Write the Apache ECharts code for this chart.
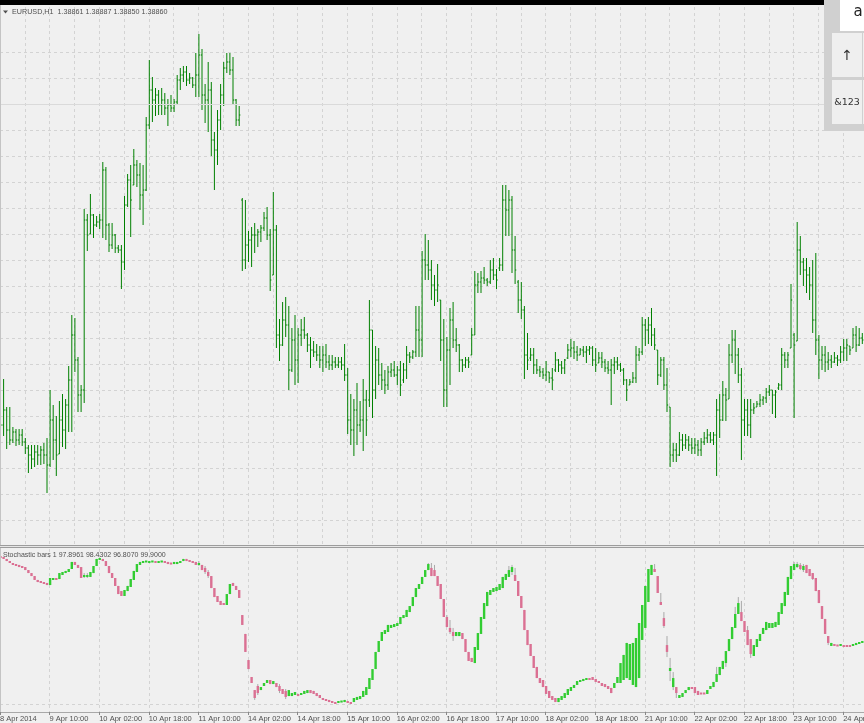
<!DOCTYPE html>
<html><head><meta charset="utf-8">
<script src="https://cdn.jsdelivr.net/npm/echarts@6/dist/echarts.min.js"></script>
<style>html,body{margin:0;padding:0;background:#f0f0f0;overflow:hidden}#c{width:864px;height:723px}</style>
</head><body><div id="c"></div>
<script>
const tickLabels = ['8 Apr 2014','9 Apr 10:00','10 Apr 02:00','10 Apr 18:00','11 Apr 10:00','14 Apr 02:00','14 Apr 18:00','15 Apr 10:00','16 Apr 02:00','16 Apr 18:00','17 Apr 10:00','18 Apr 02:00','18 Apr 18:00','21 Apr 10:00','22 Apr 02:00','22 Apr 18:00','23 Apr 10:00','24 Apr 02:00'];

const priceOpen = [
1.38780,1.38775,1.38790,1.38770,1.38760,1.38768,1.38760,1.38765,1.38758,1.38752,
1.38745,1.38741,1.38748,1.38745,1.38750,1.38745,1.38735,1.38780,1.38760,1.38746,
1.38780,1.38770,1.38795,1.38820,1.38865,1.38840,1.38805,1.38810,1.38980,1.38966,
1.38985,1.38975,1.38978,1.38980,1.39030,1.38975,1.38955,1.38965,1.38952,1.38950,
1.38938,1.38995,1.39020,1.39015,1.39035,1.39025,1.39005,1.39010,1.39075,1.39110,
1.39100,1.39105,1.39095,1.39100,1.39092,1.39095,1.39092,1.39098,1.39120,1.39125,
1.39128,1.39120,1.39122,1.39115,1.39125,1.39145,1.39105,1.39100,1.39110,1.39060,
1.39050,1.39080,1.39105,1.39132,1.39138,1.39130,1.39100,1.39080,1.39000,1.38940,
1.38955,1.38960,1.38965,1.38965,1.38968,1.38972,1.38982,1.38965,1.38925,1.38970,
1.38865,1.38855,1.38880,1.38875,1.38830,1.38860,1.38840,1.38865,1.38870,1.38865,
1.38855,1.38850,1.38848,1.38845,1.38840,1.38845,1.38838,1.38835,1.38838,1.38835,
1.38838,1.38835,1.38825,1.38780,1.38770,1.38790,1.38775,1.38780,1.38800,1.38800,
1.38870,1.38810,1.38840,1.38825,1.38820,1.38815,1.38828,1.38830,1.38825,1.38830,
1.38820,1.38830,1.38845,1.38843,1.38848,1.38870,1.38860,1.38940,1.38935,1.38930,
1.38915,1.38910,1.38900,1.38860,1.38810,1.38850,1.38880,1.38860,1.38855,1.38840,
1.38835,1.38840,1.38845,1.38865,1.38915,1.38918,1.38922,1.38920,1.38918,1.38930,
1.38925,1.38932,1.38935,1.39000,1.38990,1.39000,1.38950,1.38918,1.38900,1.38890,
1.38845,1.38842,1.38845,1.38835,1.38830,1.38828,1.38825,1.38828,1.38822,1.38830,
1.38840,1.38835,1.38832,1.38842,1.38850,1.38852,1.38848,1.38845,1.38850,1.38848,
1.38850,1.38852,1.38840,1.38837,1.38842,1.38838,1.38832,1.38830,1.38835,1.38838,
1.38835,1.38830,1.38820,1.38815,1.38818,1.38822,1.38845,1.38848,1.38875,1.38870,
1.38875,1.38865,1.38850,1.38825,1.38840,1.38815,1.38793,1.38745,1.38750,1.38745,
1.38760,1.38755,1.38760,1.38755,1.38752,1.38755,1.38750,1.38758,1.38762,1.38765,
1.38760,1.38765,1.38790,1.38780,1.38805,1.38801,1.38845,1.38860,1.38845,1.38825,
1.38780,1.38790,1.38775,1.38790,1.38793,1.38796,1.38800,1.38802,1.38808,1.38810,
1.38805,1.38812,1.38815,1.38845,1.38840,1.38852,1.38865,1.38859,1.38950,1.38938,
1.38930,1.38925,1.38915,1.38880,1.38860,1.38840,1.38845,1.38838,1.38840,1.38838,
1.38842,1.38840,1.38848,1.38852,1.38854,1.38852,1.38865,1.38855,1.38862];
const priceHigh = [
1.38805,1.38821,1.38793,1.38793,1.38773,1.38771,1.38771,1.38771,1.38762,1.38755,
1.38755,1.38755,1.38755,1.38754,1.38757,1.38762,1.38810,1.38795,1.38784,1.38799,
1.38806,1.38801,1.38834,1.38885,1.38882,1.38843,1.38815,1.38991,1.38986,1.39006,
1.38986,1.38984,1.38986,1.39038,1.39033,1.38977,1.38977,1.38966,1.38955,1.38955,
1.39004,1.39026,1.39035,1.39051,1.39040,1.39037,1.39035,1.39083,1.39140,1.39123,
1.39112,1.39110,1.39112,1.39107,1.39101,1.39105,1.39101,1.39125,1.39132,1.39134,
1.39134,1.39127,1.39123,1.39147,1.39166,1.39151,1.39116,1.39138,1.39118,1.39068,
1.39090,1.39116,1.39138,1.39147,1.39147,1.39143,1.39101,1.39094,1.39002,1.39000,
1.38969,1.38973,1.38977,1.38971,1.38975,1.38988,1.38993,1.38971,1.39008,1.38975,
1.38881,1.38898,1.38903,1.38894,1.38872,1.38885,1.38872,1.38881,1.38883,1.38867,
1.38863,1.38859,1.38856,1.38854,1.38854,1.38856,1.38845,1.38845,1.38843,1.38843,
1.38843,1.38856,1.38832,1.38806,1.38801,1.38817,1.38799,1.38821,1.38810,1.38900,
1.38870,1.38854,1.38852,1.38837,1.38830,1.38834,1.38837,1.38839,1.38834,1.38839,
1.38837,1.38854,1.38848,1.38850,1.38894,1.38894,1.38949,1.38966,1.38960,1.38940,
1.38925,1.38936,1.38900,1.38881,1.38863,1.38892,1.38898,1.38872,1.38856,1.38841,
1.38843,1.38843,1.38872,1.38929,1.38927,1.38929,1.38933,1.38922,1.38940,1.38942,
1.38931,1.38942,1.39015,1.39015,1.39010,1.39004,1.38964,1.38920,1.38918,1.38894,
1.38867,1.38852,1.38852,1.38841,1.38834,1.38832,1.38839,1.38828,1.38832,1.38848,
1.38841,1.38839,1.38841,1.38856,1.38861,1.38859,1.38854,1.38852,1.38854,1.38854,
1.38854,1.38854,1.38852,1.38848,1.38848,1.38841,1.38839,1.38841,1.38843,1.38843,
1.38837,1.38832,1.38821,1.38821,1.38828,1.38854,1.38852,1.38883,1.38881,1.38883,
1.38892,1.38872,1.38850,1.38843,1.38843,1.38832,1.38793,1.38757,1.38757,1.38768,
1.38766,1.38766,1.38764,1.38762,1.38762,1.38760,1.38762,1.38768,1.38771,1.38768,
1.38768,1.38801,1.38806,1.38819,1.38812,1.38856,1.38870,1.38870,1.38852,1.38832,
1.38801,1.38801,1.38801,1.38797,1.38799,1.38806,1.38804,1.38812,1.38815,1.38810,
1.38810,1.38817,1.38852,1.38848,1.38848,1.38916,1.38867,1.38978,1.38964,1.38942,
1.38942,1.38933,1.38940,1.38947,1.38865,1.38854,1.38854,1.38848,1.38845,1.38848,
1.38845,1.38854,1.38861,1.38861,1.38854,1.38872,1.38874,1.38872,1.38867];
const priceLow = [
1.38746,1.38764,1.38751,1.38755,1.38757,1.38754,1.38755,1.38754,1.38746,1.38727,
1.38731,1.38733,1.38735,1.38735,1.38736,1.38707,1.38733,1.38740,1.38724,1.38746,
1.38753,1.38751,1.38768,1.38768,1.38828,1.38788,1.38788,1.38797,1.38949,1.38966,
1.38962,1.38973,1.38971,1.38962,1.38960,1.38948,1.38951,1.38947,1.38947,1.38911,
1.38930,1.38993,1.38963,1.39015,1.39013,1.38990,1.38975,1.39009,1.39071,1.39078,
1.39084,1.39085,1.39085,1.39085,1.39074,1.39088,1.39088,1.39096,1.39110,1.39118,
1.39114,1.39116,1.39112,1.39103,1.39103,1.39090,1.39077,1.39068,1.39044,1.39010,
1.39035,1.39070,1.39094,1.39127,1.39125,1.39096,1.39074,1.39074,1.38929,1.38931,
1.38938,1.38933,1.38947,1.38953,1.38958,1.38969,1.38960,1.38909,1.38925,1.38852,
1.38839,1.38854,1.38863,1.38810,1.38828,1.38815,1.38817,1.38854,1.38861,1.38848,
1.38832,1.38843,1.38839,1.38832,1.38828,1.38832,1.38830,1.38830,1.38832,1.38832,
1.38830,1.38819,1.38766,1.38755,1.38744,1.38755,1.38768,1.38749,1.38764,1.38793,
1.38782,1.38801,1.38815,1.38810,1.38806,1.38810,1.38823,1.38823,1.38815,1.38804,
1.38817,1.38821,1.38837,1.38841,1.38843,1.38843,1.38843,1.38920,1.38920,1.38900,
1.38894,1.38898,1.38839,1.38793,1.38793,1.38815,1.38852,1.38848,1.38828,1.38828,
1.38832,1.38832,1.38845,1.38865,1.38907,1.38907,1.38916,1.38914,1.38916,1.38920,
1.38911,1.38929,1.38929,1.38964,1.38964,1.38927,1.38916,1.38887,1.38881,1.38821,
1.38830,1.38839,1.38826,1.38826,1.38823,1.38821,1.38819,1.38817,1.38810,1.38828,
1.38828,1.38826,1.38826,1.38841,1.38843,1.38841,1.38839,1.38845,1.38843,1.38837,
1.38845,1.38834,1.38828,1.38837,1.38832,1.38828,1.38826,1.38795,1.38826,1.38830,
1.38828,1.38815,1.38799,1.38815,1.38817,1.38817,1.38839,1.38845,1.38854,1.38856,
1.38854,1.38850,1.38815,1.38823,1.38810,1.38788,1.38733,1.38738,1.38738,1.38744,
1.38749,1.38751,1.38749,1.38746,1.38746,1.38744,1.38744,1.38755,1.38757,1.38757,
1.38755,1.38724,1.38762,1.38779,1.38779,1.38801,1.38837,1.38826,1.38817,1.38740,
1.38764,1.38764,1.38762,1.38786,1.38793,1.38793,1.38795,1.38797,1.38804,1.38786,
1.38782,1.38810,1.38810,1.38832,1.38832,1.38852,1.38782,1.38859,1.38925,1.38914,
1.38907,1.38900,1.38867,1.38845,1.38821,1.38830,1.38828,1.38830,1.38832,1.38837,
1.38834,1.38837,1.38839,1.38839,1.38845,1.38852,1.38848,1.38854,1.38856];
const priceClose = [
1.38775,1.38790,1.38770,1.38760,1.38768,1.38760,1.38765,1.38758,1.38752,1.38745,
1.38741,1.38748,1.38745,1.38750,1.38745,1.38735,1.38780,1.38760,1.38745,1.38780,
1.38770,1.38795,1.38820,1.38865,1.38840,1.38805,1.38810,1.38980,1.38965,1.38985,
1.38975,1.38978,1.38980,1.39030,1.38975,1.38955,1.38965,1.38952,1.38950,1.38938,
1.38995,1.39020,1.39000,1.39035,1.39025,1.39005,1.39010,1.39075,1.39110,1.39100,
1.39105,1.39095,1.39100,1.39092,1.39095,1.39092,1.39098,1.39120,1.39125,1.39128,
1.39120,1.39122,1.39115,1.39125,1.39145,1.39105,1.39100,1.39110,1.39060,1.39050,
1.39080,1.39105,1.39132,1.39138,1.39130,1.39100,1.39080,1.39085,1.38940,1.38955,
1.38960,1.38965,1.38965,1.38968,1.38972,1.38982,1.38965,1.38920,1.38970,1.38865,
1.38855,1.38880,1.38875,1.38830,1.38860,1.38840,1.38865,1.38870,1.38865,1.38855,
1.38850,1.38848,1.38845,1.38840,1.38845,1.38838,1.38835,1.38838,1.38835,1.38838,
1.38835,1.38825,1.38780,1.38770,1.38790,1.38775,1.38780,1.38800,1.38780,1.38870,
1.38810,1.38840,1.38825,1.38820,1.38815,1.38828,1.38830,1.38825,1.38830,1.38815,
1.38830,1.38845,1.38843,1.38848,1.38870,1.38860,1.38940,1.38935,1.38930,1.38915,
1.38910,1.38915,1.38860,1.38810,1.38850,1.38880,1.38860,1.38855,1.38840,1.38835,
1.38840,1.38838,1.38865,1.38915,1.38918,1.38922,1.38920,1.38918,1.38930,1.38925,
1.38920,1.38935,1.39000,1.38990,1.39000,1.38950,1.38930,1.38900,1.38890,1.38845,
1.38840,1.38845,1.38835,1.38830,1.38828,1.38825,1.38828,1.38822,1.38820,1.38840,
1.38835,1.38832,1.38840,1.38850,1.38852,1.38848,1.38845,1.38850,1.38848,1.38850,
1.38852,1.38840,1.38835,1.38842,1.38838,1.38832,1.38830,1.38835,1.38838,1.38835,
1.38830,1.38820,1.38810,1.38818,1.38822,1.38845,1.38848,1.38875,1.38870,1.38875,
1.38865,1.38855,1.38825,1.38840,1.38815,1.38795,1.38745,1.38750,1.38745,1.38760,
1.38755,1.38760,1.38755,1.38752,1.38755,1.38750,1.38758,1.38762,1.38765,1.38760,
1.38765,1.38790,1.38780,1.38805,1.38800,1.38845,1.38860,1.38845,1.38825,1.38780,
1.38790,1.38775,1.38790,1.38792,1.38796,1.38800,1.38802,1.38808,1.38810,1.38805,
1.38808,1.38815,1.38845,1.38840,1.38845,1.38900,1.38855,1.38950,1.38938,1.38930,
1.38925,1.38915,1.38880,1.38860,1.38840,1.38845,1.38838,1.38840,1.38838,1.38842,
1.38840,1.38848,1.38852,1.38855,1.38850,1.38865,1.38855,1.38862,1.38860];

const stochOpen = [
98.7,98.0,96.7,95.3,94.0,93.3,92.7,92.0,91.3,89.3,
87.3,85.3,82.7,82.0,81.3,80.7,79.3,82.7,84.0,83.3,
86.0,87.3,88.0,90.0,94.7,92.7,91.3,84.7,84.7,84.7,
87.3,92.0,96.0,96.7,95.3,92.0,87.3,84.0,78.7,75.3,
72.0,75.3,78.0,82.7,88.0,92.7,94.0,94.7,94.0,94.7,
95.3,94.0,94.7,95.3,94.7,94.0,93.3,93.3,94.0,95.3,
96.7,96.0,95.3,94.7,92.7,92.7,90.7,88.0,85.3,77.3,
72.0,68.7,67.3,66.0,73.3,80.7,78.7,76.0,59.3,46.7,
29.3,18.0,9.3,12.0,9.3,12.0,14.0,16.0,13.3,14.0,
12.0,10.0,8.7,5.3,5.3,6.0,6.7,6.0,6.7,7.3,
9.3,8.7,7.3,6.0,4.0,3.3,2.7,2.0,1.3,0.7,
1.3,1.3,2.0,1.3,1.3,2.7,3.3,4.7,6.0,10.0,
16.0,23.3,34.7,42.0,46.7,48.0,50.7,51.3,52.0,53.3,
57.3,58.0,61.3,65.3,71.3,76.7,80.0,84.7,89.3,90.7,
89.3,85.3,80.0,70.0,58.0,50.7,48.0,45.3,45.3,47.3,
43.3,34.7,30.7,27.3,36.0,46.7,56.7,65.3,72.7,74.7,
75.3,76.0,77.3,82.7,84.7,88.0,86.0,82.0,72.0,62.7,
49.3,40.0,32.0,24.7,17.3,16.0,12.0,8.7,5.3,4.0,
1.3,2.7,4.0,6.0,8.7,10.7,12.7,14.7,15.3,16.0,
17.3,18.0,16.7,15.3,14.0,13.3,12.0,10.7,10.7,14.0,
14.0,16.0,17.3,16.0,12.7,11.3,17.3,42.7,50.7,68.0,
86.0,90.0,85.3,68.0,57.3,39.3,22.0,11.3,11.3,4.0,
4.7,7.3,9.3,11.3,11.3,8.7,7.3,7.3,6.7,10.0,
11.3,14.7,19.3,23.3,27.3,35.3,43.3,50.7,60.0,61.3,
55.3,49.3,43.3,32.0,38.0,42.0,46.7,49.3,50.7,50.7,
51.3,52.7,60.0,65.3,72.7,83.3,89.3,91.3,92.7,89.3,
92.7,90.0,87.3,84.0,76.0,65.3,56.7,45.3,38.7,40.0,
39.3,38.7,39.3,39.3,39.3,38.7,39.3,40.0,40.7];
const stochHigh = [
98.7,98.0,96.7,95.3,94.0,93.3,92.7,92.0,91.3,89.3,
87.3,85.3,82.7,82.0,81.3,80.7,84.0,84.0,84.0,87.3,
88.0,88.7,90.0,94.7,94.7,92.7,91.3,87.3,87.3,88.0,
92.0,96.7,97.3,96.7,95.3,92.0,87.3,84.0,78.7,75.3,
76.0,78.7,83.3,88.7,93.3,94.7,95.3,95.3,95.3,95.3,
95.3,95.3,95.3,95.3,94.7,94.0,94.7,94.7,95.3,96.7,
96.7,96.0,95.3,94.7,95.3,92.7,92.0,89.3,85.3,77.3,
72.0,68.7,67.3,73.3,80.0,80.7,78.7,76.0,59.3,46.7,
29.3,18.0,9.3,13.3,11.3,14.0,16.0,16.0,15.3,14.0,
13.3,10.0,10.0,9.3,7.3,8.0,6.7,7.3,8.7,9.3,
9.3,8.7,7.3,6.0,4.0,3.3,2.7,2.0,1.3,2.0,
2.0,2.7,2.0,1.3,4.0,4.7,5.3,8.7,11.3,17.3,
23.3,34.7,42.0,48.0,49.3,52.7,52.7,53.3,54.0,58.0,
59.3,62.7,65.3,71.3,77.3,80.0,84.7,89.3,94.0,94.0,
92.7,85.3,80.0,70.0,59.3,56.0,50.7,48.0,48.0,47.3,
43.3,34.7,30.7,38.0,47.3,58.0,67.3,74.7,76.0,77.3,
78.0,80.0,84.7,86.7,92.0,92.7,90.7,82.0,72.0,62.7,
49.3,40.0,32.0,24.7,17.3,16.0,12.0,8.7,5.3,4.0,
4.0,5.3,7.3,10.0,11.3,12.7,15.3,16.0,16.7,17.3,
17.3,18.0,16.7,15.3,14.0,13.3,12.0,10.7,14.0,18.0,
27.3,32.7,40.7,40.0,40.7,44.0,54.0,66.0,78.7,90.0,
92.7,93.3,85.3,74.0,61.3,45.3,30.7,21.3,11.3,6.0,
7.3,9.3,11.3,11.3,11.3,8.7,7.3,7.3,9.3,12.0,
14.7,24.7,24.7,28.7,35.3,43.3,51.3,64.7,71.3,68.7,
55.3,52.0,43.3,39.3,43.3,46.7,50.7,54.7,54.0,54.0,
54.7,61.3,67.3,74.7,84.7,92.0,94.7,94.7,94.0,93.3,
92.7,90.0,87.3,84.0,76.0,65.3,56.7,45.3,40.7,40.0,
39.3,40.0,39.3,39.3,39.3,40.0,40.7,41.3,42.0];
const stochLow = [
97.3,96.7,95.3,94.0,92.7,92.0,91.3,90.7,89.3,87.3,
85.3,82.7,81.3,80.7,80.0,79.3,79.3,82.7,82.7,83.3,
86.0,87.3,88.0,90.0,92.7,90.7,84.0,84.0,84.0,84.7,
87.3,92.0,96.0,95.3,92.0,87.3,84.0,78.7,73.3,72.0,
72.0,75.3,78.0,82.7,88.0,92.7,94.0,94.7,94.0,94.7,
94.0,94.0,94.7,94.0,93.3,93.3,93.3,93.3,94.0,95.3,
95.3,94.7,94.0,92.7,92.0,89.3,86.7,84.0,77.3,71.3,
68.0,66.0,66.0,66.0,73.3,78.7,76.0,70.7,52.7,34.7,
23.3,14.0,2.7,6.0,9.3,12.0,14.0,13.3,13.3,11.3,
7.3,6.7,3.3,5.3,5.3,6.0,5.3,6.0,6.7,7.3,
7.3,6.7,5.3,4.0,2.7,2.0,1.3,0.7,0.0,0.7,
1.3,1.3,0.7,0.0,1.3,2.7,3.3,4.7,6.0,10.0,
16.0,23.3,34.7,42.0,46.7,48.0,50.7,51.3,52.0,53.3,
57.3,58.0,61.3,65.3,71.3,76.7,80.0,84.7,89.3,85.3,
85.3,78.7,70.0,58.0,51.3,46.7,42.0,45.3,45.3,43.3,
34.7,28.7,28.0,27.3,36.0,46.7,56.7,65.3,72.7,74.7,
75.3,76.0,77.3,82.7,84.7,86.0,82.0,72.0,64.0,49.3,
39.3,32.0,24.0,17.3,14.0,11.3,6.7,4.0,2.7,1.3,
1.3,2.7,4.0,6.0,8.7,10.7,12.7,14.7,15.3,16.0,
16.0,16.0,14.7,14.0,12.0,11.3,10.0,7.3,10.7,14.0,
14.0,16.0,17.3,16.0,12.7,11.3,17.3,42.7,50.7,68.0,
86.0,88.0,74.0,66.0,50.7,31.3,15.3,9.3,4.0,4.0,
4.7,7.3,9.3,10.0,7.3,6.0,6.7,6.7,6.7,10.0,
11.3,14.7,19.3,23.3,24.7,35.3,43.3,50.7,60.0,55.3,
48.0,39.3,30.7,32.0,38.0,42.0,46.7,49.3,50.7,50.7,
51.3,52.7,60.0,65.3,72.7,83.3,89.3,90.7,89.3,88.0,
87.3,85.3,82.7,75.3,67.3,56.7,46.7,39.3,38.7,38.7,
38.7,38.7,38.0,38.0,38.0,38.7,39.3,40.0,40.7];
const stochClose = [
97.3,96.7,95.3,94.0,92.7,92.0,91.3,90.7,89.3,87.3,
85.3,82.7,81.3,80.7,80.0,79.3,84.0,84.0,82.7,87.3,
88.0,88.7,90.0,94.7,92.7,90.7,84.0,86.0,86.0,88.0,
92.0,96.7,97.3,95.3,92.0,87.3,84.0,78.7,73.3,72.0,
76.0,78.7,83.3,88.7,93.3,94.7,95.3,95.3,95.3,95.3,
94.0,95.3,95.3,94.0,93.3,93.3,94.7,94.7,95.3,96.7,
95.3,94.7,94.0,92.7,94.0,89.3,88.0,85.3,77.3,71.3,
68.0,66.0,66.0,73.3,80.0,78.7,76.0,70.7,52.7,34.7,
23.3,14.0,4.0,7.3,11.3,14.0,16.0,13.3,15.3,11.3,
8.7,6.7,4.7,9.3,7.3,8.0,5.3,7.3,8.7,9.3,
7.3,6.7,5.3,4.0,2.7,2.0,1.3,0.7,0.0,2.0,
2.0,2.7,0.7,0.0,4.0,4.7,5.3,8.7,11.3,17.3,
23.3,34.7,42.0,48.0,49.3,52.7,52.7,53.3,54.0,58.0,
59.3,62.7,65.3,71.3,77.3,80.0,84.7,89.3,93.3,85.3,
85.3,78.7,70.0,58.0,51.3,48.0,45.3,48.0,48.0,43.3,
34.7,28.7,28.0,38.0,47.3,58.0,67.3,74.7,76.0,77.3,
78.0,80.0,84.7,86.7,89.3,91.3,82.0,72.0,64.0,49.3,
39.3,32.0,24.0,17.3,14.0,11.3,6.7,4.0,2.7,1.3,
4.0,5.3,7.3,10.0,11.3,12.7,15.3,16.0,16.7,17.3,
16.0,16.0,14.7,14.0,12.0,11.3,10.0,7.3,14.0,18.0,
27.3,32.7,40.7,40.0,40.7,44.0,54.0,66.0,78.7,90.0,
92.7,88.0,74.0,66.0,52.0,34.7,24.0,17.3,7.3,6.0,
7.3,9.3,11.3,10.0,7.3,6.0,6.7,6.7,9.3,12.0,
14.7,20.0,24.7,28.7,35.3,43.3,51.3,60.0,67.3,55.3,
48.0,39.3,33.3,39.3,43.3,46.7,50.7,54.7,54.0,54.0,
54.7,61.3,67.3,74.7,84.7,92.0,93.3,93.3,90.0,92.0,
87.3,85.3,83.3,75.3,67.3,56.7,46.7,40.7,40.7,38.7,
38.7,40.0,38.0,38.0,38.0,40.0,40.7,41.3,42.0];

const XMAX = 864 / 3.1;
const FONT = 'Liberation Sans';
const GRID_COLOR = '#d3d3d3';
const BAR_COLOR = '#008000';
const UP_COLOR = '#32cd32';
const DOWN_COLOR = '#db7093';
const WICK_COLOR = '#a9a9a9';

const priceData = priceOpen.map((o, i) => [i, o, priceHigh[i], priceLow[i], priceClose[i]]);
const stochData = stochOpen.map((o, i) => [i, o, stochHigh[i], stochLow[i], stochClose[i]]);
const labelTicks = tickLabels.map((t, k) => k * 16);

function labelFor(v) {
  const k = Math.round(v / 16);
  return Math.abs(v - k * 16) < 0.01 ? (tickLabels[k] || '') : '';
}

function timeAxis(gridIndex, withLabels) {
  return {
    gridIndex: gridIndex, type: 'value', min: 0, max: XMAX, interval: 8,
    axisLine: {show: withLabels, onZero: false, lineStyle: {color: '#a8a8a8', width: 1}},
    axisTick: withLabels ? {show: true, length: 3, customValues: labelTicks, lineStyle: {color: '#888'}} : {show: false},
    axisLabel: withLabels ? {show: true, customValues: labelTicks, formatter: labelFor, align: 'left', margin: 3,
      fontSize: 7.5, fontFamily: FONT, color: '#505050', showMinLabel: true, showMaxLabel: true, hideOverlap: false} : {show: false},
    splitLine: {show: true, lineStyle: {color: GRID_COLOR, type: [3, 3], width: 1}}
  };
}

const gridBase = {left: 0, right: 0, containLabel: false, outerBoundsMode: 'none'};

const chart = echarts.init(document.getElementById('c'), null, {renderer: 'canvas'});
chart.setOption({
  animation: false,
  backgroundColor: '#f0f0f0',
  grid: [
    Object.assign({top: 7, height: 538}, gridBase),
    Object.assign({top: 52, height: 494}, gridBase),
    Object.assign({top: 549, height: 163}, gridBase)
  ],
  xAxis: [
    timeAxis(0, false),
    {gridIndex: 1, type: 'value', min: 0, max: 1, show: false},
    timeAxis(2, true)
  ],
  yAxis: [
    {gridIndex: 0, type: 'value', min: 1.38655, max: 1.39193, show: false},
    {gridIndex: 1, type: 'value', min: 0, max: 19, interval: 1,
     axisLine: {show: false}, axisTick: {show: false}, axisLabel: {show: false},
     splitLine: {show: true, lineStyle: {color: GRID_COLOR, type: [3, 3], width: 1}}},
    {gridIndex: 2, type: 'value', min: -16 / 3, max: 310 / 3, show: false}
  ],
  series: [
    {
      type: 'line', xAxisIndex: 1, yAxisIndex: 1, data: [], silent: true,
      markLine: {silent: true, symbol: 'none', label: {show: false}, animation: false,
        lineStyle: {color: '#dadada', type: 'solid', width: 1}, data: [{yAxis: 17}]}
    },
    {
      type: 'custom', xAxisIndex: 0, yAxisIndex: 0, data: priceData, silent: true,
      encode: {x: 0, y: [1, 2, 3, 4]},
      renderItem: function (params, api) {
        const i = api.value(0);
        const pO = api.coord([i, api.value(1)]);
        const pH = api.coord([i, api.value(2)]);
        const pL = api.coord([i, api.value(3)]);
        const pC = api.coord([i, api.value(4)]);
        const x = pH[0] + 0.5;
        const st = {stroke: BAR_COLOR, lineWidth: 1};
        return {type: 'group', children: [
          {type: 'line', shape: {x1: x, y1: pH[1], x2: x, y2: pL[1]}, style: st},
          {type: 'line', shape: {x1: x - 1.2, y1: pO[1], x2: x, y2: pO[1]}, style: st},
          {type: 'line', shape: {x1: x, y1: pC[1], x2: x + 1.2, y2: pC[1]}, style: st}
        ]};
      }
    },
    {
      type: 'line', xAxisIndex: 2, yAxisIndex: 2, data: [], silent: true,
      markLine: {silent: true, symbol: 'none', label: {show: false}, animation: false,
        lineStyle: {color: GRID_COLOR, type: [3, 3], width: 1}, data: [{yAxis: 0}]}
    },
    {
      type: 'custom', xAxisIndex: 2, yAxisIndex: 2, data: stochData, silent: true,
      encode: {x: 0, y: [1, 2, 3, 4]},
      renderItem: function (params, api) {
        const i = api.value(0);
        const o = api.value(1), h = api.value(2), l = api.value(3), c = api.value(4);
        const pO = api.coord([i, o]), pC = api.coord([i, c]);
        const pH = api.coord([i, h]), pL = api.coord([i, l]);
        const x = pO[0] + 0.5;
        let top = Math.min(pO[1], pC[1]), bot = Math.max(pO[1], pC[1]);
        if (bot - top < 2) { const m = (top + bot) / 2; top = m - 1; bot = m + 1; }
        const col = c >= o ? UP_COLOR : DOWN_COLOR;
        return {type: 'group', children: [
          {type: 'line', shape: {x1: x, y1: pH[1], x2: x, y2: pL[1]}, style: {stroke: WICK_COLOR, lineWidth: 1}},
          {type: 'rect', shape: {x: x - 1.2, y: top, width: 2.4, height: bot - top}, style: {fill: col}}
        ]};
      }
    }
  ],
  graphic: [
    {type: 'rect', x: 0, y: 0, shape: {width: 824, height: 5}, style: {fill: '#000'}, z: 100},
    {type: 'rect', x: 0, y: 5, shape: {width: 1, height: 707}, style: {fill: '#c4c4c4'}, z: 100},
    {type: 'polygon', shape: {points: [[3, 10.5], [8, 10.5], [5.5, 13.5]]}, style: {fill: '#505050'}, z: 100},
    {type: 'text', x: 12, y: 12, style: {text: 'EURUSD,H1  1.38861 1.38887 1.38850 1.38860', font: '7.2px "Liberation Sans"', fill: '#505050', textVerticalAlign: 'middle'}, z: 100},
    {type: 'rect', x: 0, y: 545, shape: {width: 864, height: 1}, style: {fill: '#9c9c9c'}, z: 100},
    {type: 'rect', x: 0, y: 546, shape: {width: 864, height: 1}, style: {fill: '#e6e6e6'}, z: 100},
    {type: 'rect', x: 0, y: 547, shape: {width: 864, height: 1}, style: {fill: '#9c9c9c'}, z: 100},
    {type: 'text', x: 3, y: 555, style: {text: 'Stochastic bars 1 97.8961 98.4302 96.8070 99.9000', font: '7px "Liberation Sans"', fill: '#505050', textVerticalAlign: 'middle'}, z: 100},
    {type: 'rect', x: 824, y: 0, shape: {width: 40, height: 131}, style: {fill: '#d0d0d0'}, z: 110},
    {type: 'rect', x: 840, y: 0, shape: {width: 24, height: 31}, style: {fill: '#ffffff'}, z: 111},
    {type: 'text', x: 858, y: 12, style: {text: 'a', font: '15px "DejaVu Sans"', fill: '#222', textAlign: 'center', textVerticalAlign: 'middle'}, z: 112},
    {type: 'rect', x: 832, y: 33, shape: {width: 30, height: 44}, style: {fill: '#efefef'}, z: 111},
    {type: 'rect', x: 832, y: 80, shape: {width: 30, height: 44}, style: {fill: '#efefef'}, z: 111},
    {type: 'rect', x: 863, y: 33, shape: {width: 5, height: 44}, style: {fill: '#efefef'}, z: 111},
    {type: 'rect', x: 863, y: 80, shape: {width: 5, height: 44}, style: {fill: '#efefef'}, z: 111},
    {type: 'text', x: 847, y: 56, style: {text: '↑', font: '14px "DejaVu Sans"', fill: '#333', textAlign: 'center', textVerticalAlign: 'middle'}, z: 112},
    {type: 'text', x: 847, y: 103, style: {text: '&123', font: '9.5px "DejaVu Sans"', fill: '#333', textAlign: 'center', textVerticalAlign: 'middle'}, z: 112}
  ]
});
</script>
</body></html>
